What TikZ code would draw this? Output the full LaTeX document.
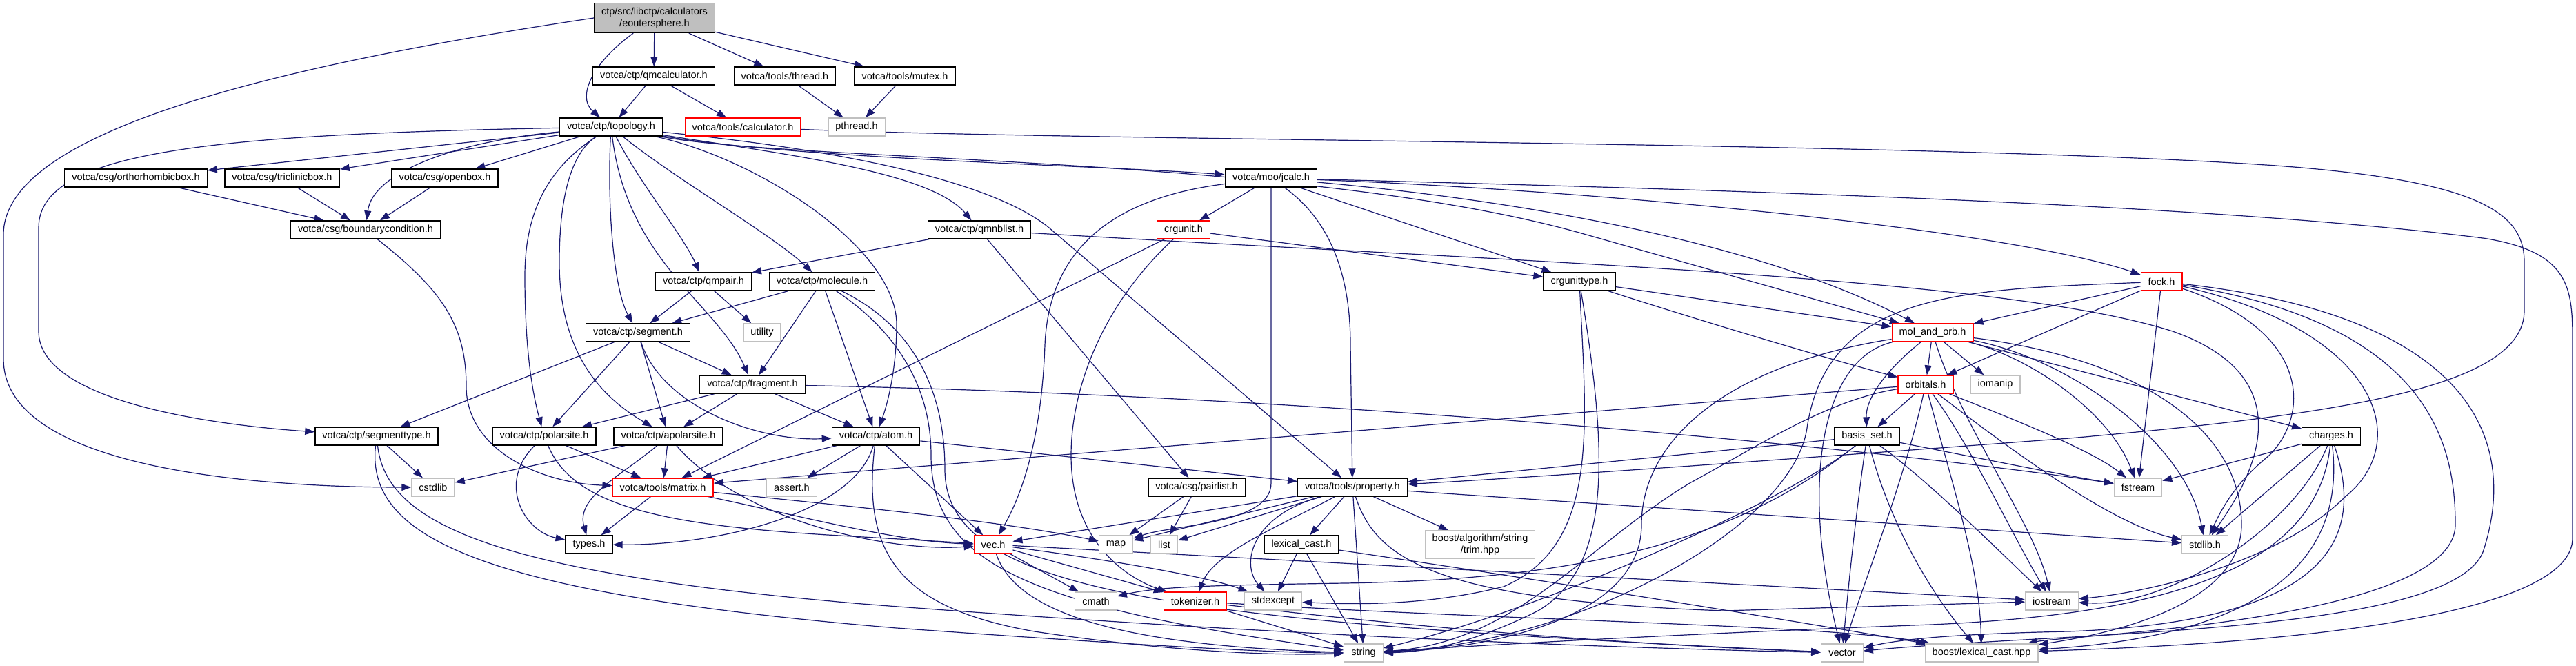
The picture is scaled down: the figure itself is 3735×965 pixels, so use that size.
\documentclass[tikz,border=0pt]{standalone}
\usepackage{fontspec}
\setmainfont{Liberation Sans}
\usetikzlibrary{arrows.meta}
\definecolor{edgeblue}{HTML}{191970}
\definecolor{rootgray}{HTML}{BFBFBF}
\definecolor{sysgray}{HTML}{C0C0C0}
\pgfdeclarelayer{bg}
\pgfdeclarelayer{edges}
\pgfsetlayers{bg,edges,main}

\tikzset{
  hdr/.style={draw=black, line width=1.3pt, fill=white, font=\fontsize{14.5}{17}\selectfont, inner xsep=10.5pt, inner ysep=0pt, minimum height=26pt, align=center},
  syshdr/.style={hdr, draw=sysgray},
  trunc/.style={hdr, draw=red},
  root/.style={hdr, fill=rootgray, minimum height=43pt},
  dep/.style={edgeblue, line width=1.2pt, -{Triangle[length=14pt,width=10pt]}}
}

\begin{document}
\begin{tikzpicture}[x=1pt, y=-1pt]
\begin{pgfonlayer}{bg}
\useasboundingbox[fill=white] (0,0) rectangle (3735,965);
\end{pgfonlayer}

% --- headers ---
\node[root] (eouter) at (949,26) {ctp/src/libctp/calculators\\/eoutersphere.h};
\node[hdr] (qmcalc) at (948,110) {votca/ctp/qmcalculator.h};
\node[hdr] (thread) at (1138,110) {votca/tools/thread.h};
\node[hdr] (mutex) at (1312,110) {votca/tools/mutex.h};
\node[hdr] (topology) at (886,184) {votca/ctp/topology.h};
\node[trunc] (calculator) at (1077,184) {votca/tools/calculator.h};
\node[syshdr] (pthread) at (1242,184) {pthread.h};
\node[hdr] (orthobox) at (197,258) {votca/csg/orthorhombicbox.h};
\node[hdr] (triclinic) at (409,258) {votca/csg/triclinicbox.h};
\node[hdr] (openbox) at (645,258) {votca/csg/openbox.h};
\node[hdr] (jcalc) at (1843,258) {votca/moo/jcalc.h};
\node[hdr] (bcond) at (530,333) {votca/csg/boundarycondition.h};
\node[hdr] (qmnblist) at (1420,333) {votca/ctp/qmnblist.h};
\node[trunc] (crgunit) at (1716,333) {crgunit.h};
\node[hdr] (qmpair) at (1020,408) {votca/ctp/qmpair.h};
\node[hdr] (molecule) at (1192,408) {votca/ctp/molecule.h};
\node[hdr] (crgtype) at (2290,408) {crgunittype.h};
\node[trunc] (fock) at (3134,408) {fock.h};
\node[hdr] (segment) at (925,482) {votca/ctp/segment.h};
\node[syshdr] (utility) at (1105,482) {utility};
\node[trunc] (molorb) at (2802,482) {mol\_and\_orb.h};
\node[hdr] (fragment) at (1091,557) {votca/ctp/fragment.h};
\node[trunc] (orbitals) at (2792,557) {orbitals.h};
\node[syshdr] (iomanip) at (2893,557) {iomanip};
\node[hdr] (segtype) at (546,632) {votca/ctp/segmenttype.h};
\node[hdr] (polarsite) at (789,632) {votca/ctp/polarsite.h};
\node[hdr] (apolarsite) at (969,632) {votca/ctp/apolarsite.h};
\node[hdr] (atom) at (1270,632) {votca/ctp/atom.h};
\node[hdr] (basisset) at (2707,632) {basis\_set.h};
\node[hdr] (charges) at (3380,632) {charges.h};
\node[syshdr] (cstdlib) at (628,706) {cstdlib};
\node[trunc] (matrix) at (961,706) {votca/tools/matrix.h};
\node[syshdr] (assertH) at (1148,706) {assert.h};
\node[hdr] (pairlist) at (1735,706) {votca/csg/pairlist.h};
\node[hdr] (property) at (1961,706) {votca/tools/property.h};
\node[syshdr] (fstream) at (3100,706) {fstream};
\node[hdr] (types) at (854,789) {types.h};
\node[trunc] (vec) at (1440,789) {vec.h};
\node[syshdr] (map) at (1618,789) {map};
\node[syshdr] (list) at (1688,789) {list};
\node[hdr] (lexcast) at (1887,789) {lexical\_cast.h};
\node[syshdr, minimum height=40pt] (trim) at (2146,789) {boost/algorithm/string\\/trim.hpp};
\node[syshdr] (stdlibH) at (3197,789) {stdlib.h};
\node[syshdr] (cmath) at (1589,871) {cmath};
\node[trunc] (tokenizer) at (1733,871) {tokenizer.h};
\node[syshdr] (stdexcept) at (1846,871) {stdexcept};
\node[syshdr] (iostream) at (2975,871) {iostream};
\node[syshdr] (string) at (1977,946) {string};
\node[syshdr] (vector) at (2671,946) {vector};
\node[syshdr] (boostlex) at (2873,946) {boost/lexical\_cast.hpp};

\begin{pgfonlayer}{edges}
% --- root and calculator ---
\draw[dep] (eouter.west) .. controls (400,95) and (5,190) .. (5,340) -- (5,520) .. controls (5,690) and (420,706) .. (cstdlib);
\draw[dep] (eouter) .. controls (860,90) and (835,140) .. (topology);
\draw[dep] (eouter) -- (qmcalc);
\draw[dep] (eouter) -- (thread);
\draw[dep] (eouter) -- (mutex);
\draw[dep] (qmcalc) -- (topology);
\draw[dep] (qmcalc) -- (calculator);
\draw[dep] (thread) -- (pthread);
\draw[dep] (mutex) -- (pthread);
\draw[dep] (calculator) .. controls (1600,205) and (2800,205) .. (3300,240) .. controls (3600,262) and (3660,310) .. (3660,380) -- (3660,450) .. controls (3660,560) and (3400,600) .. (3000,635) .. controls (2600,665) and (2250,690) .. (property);

% --- topology ---
\draw[dep] (topology) -- (orthobox);
\draw[dep] (topology) -- (triclinic);
\draw[dep] (topology) -- (openbox);
\draw[dep] (topology) .. controls (660,205) and (540,250) .. (bcond);
\draw[dep] (topology) .. controls (300,195) and (56,220) .. (56,330) -- (56,480) .. controls (56,580) and (300,615) .. (segtype);
\draw[dep] (topology) .. controls (930,270) and (990,340) .. (qmpair);
\draw[dep] (topology) .. controls (980,260) and (1120,340) .. (molecule);
\draw[dep] (topology) .. controls (880,300) and (890,420) .. (segment);
\draw[dep] (topology) .. controls (910,380) and (1040,440) .. (fragment);
\draw[dep] (topology) .. controls (800,240) and (761,300) .. (761,400) .. controls (761,520) and (775,580) .. (polarsite);
\draw[dep] (topology) .. controls (830,220) and (811,280) .. (811,380) .. controls (811,520) and (880,580) .. (apolarsite);
\draw[dep] (topology) .. controls (1100,230) and (1300,360) .. (1300,470) .. controls (1300,540) and (1285,590) .. (atom);
\draw[dep] (topology) .. controls (1150,225) and (1350,250) .. (qmnblist);
\draw[dep] (topology) .. controls (1150,230) and (1600,240) .. (jcalc);
\draw[dep] (topology) .. controls (1300,225) and (1460,280) .. (1521,330) -- (property);
\draw[dep] (topology) .. controls (1150,235) and (1900,225) .. (2300,340) -- (molorb);

% --- boundary conditions ---
\draw[dep] (orthobox) -- (bcond);
\draw[dep] (triclinic) -- (bcond);
\draw[dep] (openbox) -- (bcond);
\draw[dep] (bcond) .. controls (640,420) and (676,470) .. (676,560) .. controls (676,650) and (780,700) .. (matrix);

% --- ctp objects ---
\draw[dep] (qmnblist) -- (qmpair);
\draw[dep] (qmnblist) -- (pairlist);
\draw[dep] (qmnblist) .. controls (2200,380) and (2900,400) .. (3150,480) .. controls (3350,550) and (3260,700) .. (stdlibH);
\draw[dep] (qmpair) -- (segment);
\draw[dep] (qmpair) -- (utility);
\draw[dep] (molecule) -- (segment);
\draw[dep] (molecule) -- (fragment);
\draw[dep] (molecule) -- (atom);
\draw[dep] (molecule) .. controls (1300,480) and (1350,560) .. (1350,660) .. controls (1350,820) and (1500,880) .. (string);
\draw[dep] (molecule) .. controls (1320,470) and (1370,560) .. (1370,680) .. controls (1370,860) and (1700,900) .. (vector);
\draw[dep] (segment) -- (segtype);
\draw[dep] (segment) -- (polarsite);
\draw[dep] (segment) -- (apolarsite);
\draw[dep] (segment) -- (fragment);
\draw[dep] (segment) .. controls (960,590) and (1100,640) .. (atom);
\draw[dep] (fragment) -- (polarsite);
\draw[dep] (fragment) -- (apolarsite);
\draw[dep] (fragment) -- (atom);
\draw[dep] (fragment) .. controls (2000,575) and (2800,660) .. (fstream);
\draw[dep] (segtype) -- (cstdlib);
\draw[dep] (segtype) .. controls (530,780) and (700,860) .. (1300,910) .. controls (1650,935) and (1850,946) .. (string);
\draw[dep] (segtype) .. controls (560,760) and (720,830) .. (1250,875) .. controls (1900,925) and (2400,940) .. (vector);
\draw[dep] (polarsite) -- (matrix);
\draw[dep] (polarsite) .. controls (720,700) and (760,770) .. (types);
\draw[dep] (polarsite) .. controls (830,730) and (950,760) .. (1200,775) -- (vec);
\draw[dep] (apolarsite) -- (cstdlib);
\draw[dep] (apolarsite) -- (matrix);
\draw[dep] (apolarsite) .. controls (900,690) and (835,720) .. (types);
\draw[dep] (apolarsite) .. controls (1080,760) and (1300,800) .. (vec);
\draw[dep] (atom) -- (matrix);
\draw[dep] (atom) -- (assertH);
\draw[dep] (atom) .. controls (1240,740) and (1050,790) .. (types);
\draw[dep] (atom) -- (vec);
\draw[dep] (atom) -- (property);
\draw[dep] (atom) .. controls (1250,800) and (1300,880) .. (1500,915) .. controls (1700,945) and (1850,950) .. (string);

% --- moo ---
\draw[dep] (crgunit) -- (crgtype);
\draw[dep] (crgunit) -- (matrix);
\draw[dep] (crgunit) .. controls (1600,440) and (1553,560) .. (1553,660) .. controls (1553,790) and (1640,840) .. (tokenizer);
\draw[dep] (jcalc) -- (crgunit);
\draw[dep] (jcalc) -- (crgtype);
\draw[dep] (jcalc) .. controls (2300,275) and (2900,330) .. (fock);
\draw[dep] (jcalc) .. controls (2200,290) and (2550,350) .. (molorb);
\draw[dep] (jcalc) .. controls (1930,320) and (1958,400) .. (1958,500) -- (property);
\draw[dep] (jcalc) -- (1843,700) .. controls (1843,760) and (1700,760) .. (map);
\draw[dep] (jcalc) .. controls (2500,275) and (3200,295) .. (3600,345) .. controls (3730,365) and (3730,420) .. (3730,500) -- (3730,780) .. controls (3730,880) and (3400,930) .. (boostlex);
\draw[dep] (jcalc) .. controls (1590,290) and (1520,380) .. (1515,500) .. controls (1510,640) and (1480,720) .. (vec);
\draw[dep] (crgtype) -- (molorb);
\draw[dep] (crgtype) .. controls (2450,460) and (2650,520) .. (orbitals);
\draw[dep] (crgtype) .. controls (2300,620) and (2320,790) .. (2180,850) .. controls (2060,880) and (1950,875) .. (stdexcept);
\draw[dep] (crgtype) .. controls (2330,650) and (2340,820) .. (2230,885) .. controls (2130,935) and (2060,945) .. (string);

% --- tools ---
\draw[dep] (matrix) -- (types);
\draw[dep] (matrix) .. controls (1150,745) and (1300,785) .. (vec);
\draw[dep] (matrix) .. controls (1250,735) and (1450,755) .. (map);
\draw[dep] (pairlist) -- (map);
\draw[dep] (pairlist) -- (list);
\draw[dep] (property) -- (vec);
\draw[dep] (property) -- (map);
\draw[dep] (property) -- (list);
\draw[dep] (property) -- (lexcast);
\draw[dep] (property) -- (trim);
\draw[dep] (property) .. controls (1860,760) and (1760,800) .. (tokenizer);
\draw[dep] (property) .. controls (1810,750) and (1800,820) .. (stdexcept);
\draw[dep] (property) -- (string);
\draw[dep] (property) -- (stdlibH);
\draw[dep] (property) .. controls (1995,810) and (2080,870) .. (2500,885) -- (iostream);
\draw[dep] (lexcast) -- (stdexcept);
\draw[dep] (lexcast) -- (string);
\draw[dep] (lexcast) .. controls (2300,850) and (2600,900) .. (boostlex);
\draw[dep] (vec) -- (cmath);
\draw[dep] (vec) -- (tokenizer);
\draw[dep] (vec) .. controls (1600,810) and (1750,835) .. (stdexcept);
\draw[dep] (vec) .. controls (1470,880) and (1600,935) .. (string);
\draw[dep] (vec) -- (iostream);
\draw[dep] (tokenizer) -- (string);
\draw[dep] (tokenizer) .. controls (2100,915) and (2400,935) .. (vector);
\draw[dep] (tokenizer) .. controls (2200,900) and (2650,905) .. (boostlex);

% --- orbitals ---
\draw[dep] (molorb) -- (orbitals);
\draw[dep] (molorb) -- (iomanip);
\draw[dep] (molorb) .. controls (2730,540) and (2705,580) .. (basisset);
\draw[dep] (molorb) -- (charges);
\draw[dep] (molorb) .. controls (2950,520) and (3060,600) .. (fstream);
\draw[dep] (molorb) .. controls (3000,520) and (3170,640) .. (stdlibH);
\draw[dep] (molorb) .. controls (2845,620) and (2950,760) .. (iostream);
\draw[dep] (molorb) .. controls (2640,520) and (2610,700) .. (vector);
\draw[dep] (molorb) .. controls (2500,530) and (2380,640) .. (2380,760) .. controls (2380,900) and (2150,940) .. (string);
\draw[dep] (molorb) .. controls (3100,520) and (3250,620) .. (3250,760) .. controls (3250,880) and (3050,920) .. (boostlex);
\draw[dep] (orbitals) -- (basisset);
\draw[dep] (orbitals) -- (matrix);
\draw[dep] (orbitals) .. controls (2900,600) and (3030,650) .. (fstream);
\draw[dep] (orbitals) .. controls (2900,640) and (3060,760) .. (stdlibH);
\draw[dep] (orbitals) .. controls (2860,650) and (2920,780) .. (iostream);
\draw[dep] (orbitals) .. controls (2760,700) and (2700,850) .. (vector);
\draw[dep] (orbitals) .. controls (2830,700) and (2870,820) .. (boostlex);
\draw[dep] (orbitals) .. controls (2650,580) and (2560,640) .. (2450,700) .. controls (2300,790) and (2200,930) .. (string);
\draw[dep] (basisset) -- (property);
\draw[dep] (basisset) .. controls (2500,800) and (2250,840) .. (1950,845) .. controls (1750,848) and (1680,850) .. (cmath);
\draw[dep] (basisset) .. controls (2850,660) and (3000,690) .. (fstream);
\draw[dep] (basisset) .. controls (2800,700) and (2900,800) .. (iostream);
\draw[dep] (basisset) .. controls (2690,750) and (2680,850) .. (vector);
\draw[dep] (basisset) .. controls (2740,760) and (2800,860) .. (boostlex);
\draw[dep] (basisset) .. controls (2600,720) and (2250,880) .. (string);

% --- fock and charges ---
\draw[dep] (fock) -- (molorb);
\draw[dep] (fock) -- (orbitals);
\draw[dep] (fock) -- (fstream);
\draw[dep] (fock) .. controls (3350,480) and (3350,600) .. (3290,660) .. controls (3240,700) and (3220,740) .. (stdlibH);
\draw[dep] (fock) .. controls (3450,480) and (3500,640) .. (3400,720) .. controls (3300,820) and (3100,860) .. (iostream);
\draw[dep] (fock) .. controls (3520,470) and (3560,640) .. (3560,760) .. controls (3560,900) and (3000,920) .. (boostlex);
\draw[dep] (fock) .. controls (3600,460) and (3650,650) .. (3600,800) .. controls (3550,920) and (3000,915) .. (vector);
\draw[dep] (fock) .. controls (2850,420) and (2650,420) .. (2620,620) .. controls (2600,760) and (2300,930) .. (string);
\draw[dep] (charges) -- (fstream);
\draw[dep] (charges) -- (stdlibH);
\draw[dep] (charges) .. controls (3330,760) and (3150,880) .. (iostream);
\draw[dep] (charges) .. controls (3430,780) and (3380,900) .. (3000,915) .. controls (2850,918) and (2760,925) .. (vector);
\draw[dep] (charges) .. controls (3400,800) and (3300,920) .. (boostlex);
\draw[dep] (charges) .. controls (3360,820) and (3150,890) .. (2800,905) .. controls (2400,920) and (2150,935) .. (string);
\end{pgfonlayer}

\end{tikzpicture}
\end{document}
